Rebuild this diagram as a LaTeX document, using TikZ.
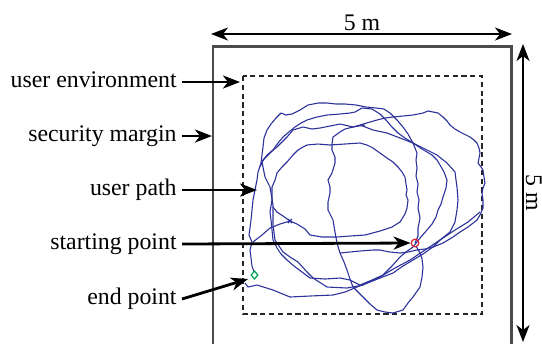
\documentclass[tikz,border=0pt]{standalone}
\usepackage{fontspec}
\setmainfont{Liberation Serif}
\usetikzlibrary{arrows.meta,shapes.geometric}
\definecolor{pathblue}{RGB}{45,50,155}
\definecolor{framegray}{RGB}{75,75,75}
\definecolor{startred}{RGB}{230,30,40}
\definecolor{endgreen}{RGB}{0,165,80}
\begin{document}
\begin{tikzpicture}[x=0.5bp,y=-0.5bp,
 lbl/.style={anchor=base east, inner sep=0pt, font=\fontsize{11.9bp}{14bp}\selectfont},
 dimlbl/.style={anchor=base, inner sep=0pt, font=\fontsize{11.9bp}{14bp}\selectfont},
 callout/.style={line width=1.4bp, -{Stealth[length=8.5bp,width=6.5bp,inset=2.5bp]}},
 dimarrow/.style={line width=1bp, {Stealth[length=8.5bp,width=6.5bp,inset=2.5bp]}-{Stealth[length=8.5bp,width=6.5bp,inset=2.5bp]}},
 frame/.style={line width=1.4bp, draw=framegray},
 envbox/.style={line width=0.6bp, dash pattern=on 2.6bp off 1.8bp, draw=black!85},
 upath/.style={line width=0.55bp, draw=pathblue, line join=round},
]
\useasboundingbox (0,0) rectangle (542,343);
\begin{scope}
\clip (0,0) rectangle (542,343);
% frame (security margin)
\draw[frame] (213,350) -- (213,46.5) -- (511.5,46.5) -- (511.5,350);
% user environment
\draw[envbox] (243,76) rectangle (482,314);

% user path strands
\draw[upath] (415,243) -- (418,236) -- (418,228) -- (420,218) -- (418,208) -- (419,200) -- (417,192) -- (418,184) -- (416,176) -- (417,168) -- (416,160) -- (417,153) -- (413,143) -- (408,134) -- (403,127) -- (397,120) -- (390,113) -- (384,109) -- (376,108) -- (366,107) -- (356,105) -- (345,104) -- (336,104) -- (327,103) -- (318,103) -- (308,105) -- (300,110) -- (292,114) -- (286,115) -- (281,113) -- (276,118) -- (271,124) -- (267,130) -- (264,138) -- (263,147) -- (262,155) -- (261,163) -- (258,172) -- (257,180) -- (255,190) -- (253,200) -- (252,210) -- (251,220) -- (250,228) -- (249,235) -- (252,242) -- (250,250) -- (251,258) -- (252,266) -- (254,272);
\draw[upath] (260,167) -- (263,160) -- (268,155) -- (273,150) -- (278,143) -- (283,137) -- (290,131) -- (295,127) -- (301,123) -- (307,120) -- (317,117) -- (327,115) -- (340,114) -- (350,113) -- (355,112) -- (362,108) -- (372,109) -- (380,114) -- (386,120) -- (392,127) -- (398,133) -- (405,138) -- (413,143) -- (422,149) -- (432,155) -- (437,160) -- (440,165) -- (444,172) -- (447,180) -- (446,188) -- (443,197) -- (441,204) -- (438,210) -- (436,217) -- (432,224) -- (427,230) -- (420,238) -- (413,247) -- (406,252) -- (400,257) -- (392,266) -- (383,275) -- (372,280) -- (360,285) -- (350,280) -- (340,278) -- (325,279) -- (310,278) -- (302,272) -- (294,266) -- (287,260) -- (281,254) -- (277,248) -- (273,240) -- (272,230) -- (271,220) -- (270,212) -- (272,200) -- (272,187) -- (275,180) -- (277,173) -- (282,167) -- (287,162) -- (293,155) -- (298,150) -- (303,147) -- (307,145) -- (318,144) -- (330,145) -- (345,144) -- (360,143) -- (367,145) -- (373,148) -- (380,153) -- (387,158) -- (393,162) -- (398,167) -- (402,172) -- (405,177) -- (406,184) -- (407,190) -- (406,195) -- (408,200) -- (407,208) -- (405,214) -- (400,222) -- (392,227) -- (380,231) -- (365,235) -- (350,236) -- (337,237) -- (322,237) -- (310,235) -- (305,229) -- (297,224) -- (290,221) -- (280,224) -- (270,228) -- (262,235) -- (253,242);
\draw[upath] (290,221) -- (283,216) -- (277,212) -- (273,207);
\draw[upath] (262,162) -- (267,155) -- (277,147) -- (287,137) -- (293,130) -- (303,127) -- (312,129) -- (320,128) -- (330,126) -- (340,124) -- (353,127) -- (360,125) -- (370,122) -- (377,120) -- (385,118) -- (393,117) -- (403,116) -- (413,115) -- (418,114) -- (423,113) -- (428,111) -- (433,112) -- (438,113) -- (443,117) -- (447,121) -- (450,125) -- (455,129) -- (460,132) -- (466,135) -- (470,137) -- (474,140) -- (477,143) -- (479,148) -- (480,153) -- (479,158) -- (478,163) -- (481,167) -- (483,170) -- (484,177) -- (485,183) -- (483,188) -- (482,193) -- (483,200) -- (483,208) -- (480,215) -- (477,220) -- (468,227) -- (460,232) -- (453,237) -- (443,243) -- (433,247) -- (425,249) -- (417,250) -- (408,252) -- (400,253) -- (390,252) -- (380,250) -- (373,250) -- (360,251) -- (350,252) -- (340,253) -- (344,262) -- (347,270) -- (350,279) -- (353,287) -- (358,292) -- (363,297) -- (370,304) -- (377,310) -- (385,312) -- (393,313) -- (403,310) -- (408,303) -- (413,297) -- (420,287) -- (422,277) -- (423,267) -- (422,259) -- (420,253) -- (416,246);
\draw[upath] (365,125) -- (353,127) -- (345,129) -- (340,132) -- (333,137) -- (332,144) -- (332,150) -- (335,157) -- (335,163) -- (332,173) -- (328,180) -- (330,187) -- (330,193) -- (328,202) -- (328,210) -- (333,220) -- (335,232) -- (337,243) -- (340,253);
\draw[upath] (360,125) -- (373,130) -- (387,133) -- (400,138) -- (413,143) -- (427,150) -- (437,155) -- (447,163) -- (455,172) -- (456,180) -- (457,187) -- (458,200) -- (457,210) -- (455,222) -- (450,232) -- (440,240) -- (433,247) -- (423,254) -- (413,260) -- (403,266) -- (393,273) -- (375,280) -- (357,287) -- (345,292) -- (333,295) -- (310,296) -- (290,297) -- (273,290) -- (257,285) -- (248,287) -- (245,283);
\draw[upath] (262,162) -- (265,177) -- (270,187) -- (273,205) -- (273,225) -- (275,240) -- (283,252) -- (290,257) -- (298,262) -- (307,272) -- (313,278) -- (327,287) -- (347,288) -- (363,285) -- (380,277) -- (395,268) -- (410,260) -- (425,250) -- (440,240) -- (455,230) -- (468,222) -- (480,212);
% start marker cross
\draw[upath] (288,219) -- (292,223) (288,223) -- (292,219);
\end{scope}

% markers
\node[circle, draw=startred, line width=0.6bp, minimum size=3.8bp, inner sep=0pt] (start) at (415,243) {};
\node[diamond, draw=endgreen, line width=0.6bp, minimum width=3.6bp, minimum height=4.2bp, inner sep=0pt] (end) at (254.5,275) {};

% dimension arrows
\coordinate (tl) at (211,34);
\coordinate (tr) at (512,34);
\draw[dimarrow] (tl) -- (tr);
\node[dimlbl] (wlbl) at (362,30.5) {5 m};
\coordinate (rt) at (523,44);
\coordinate (rb) at (523,342);
\draw[dimarrow] (rt) -- (rb);
\node[dimlbl, rotate=-90] (hlbl) at (526,193) {5 m};

% labels
\node[lbl] (ue) at (177,87.5) {user environment};
\node[lbl] (sm) at (177,141.5) {security margin};
\node[lbl] (up) at (177,195.5) {user path};
\node[lbl] (sp) at (177,249.5) {starting point};
\node[lbl] (ep) at (177,304.5) {end point};

\coordinate (ue0) at (182,82);
\coordinate (ue1) at (240,82);
\coordinate (sm0) at (182,136);
\coordinate (sm1) at (212,136);
\coordinate (up0) at (182,190);
\coordinate (up1) at (257,190);
\coordinate (sp0) at (182,244);
\coordinate (ep0) at (182,299);
\coordinate (ep1) at (248,279);

\draw[callout] (ue0) -- (ue1);
\draw[callout] (sm0) -- (sm1);
\draw[callout] (up0) -- (up1);
\draw[callout] (sp0) -- (start.west);
\draw[callout] (ep0) -- (ep1);
\end{tikzpicture}
\end{document}
